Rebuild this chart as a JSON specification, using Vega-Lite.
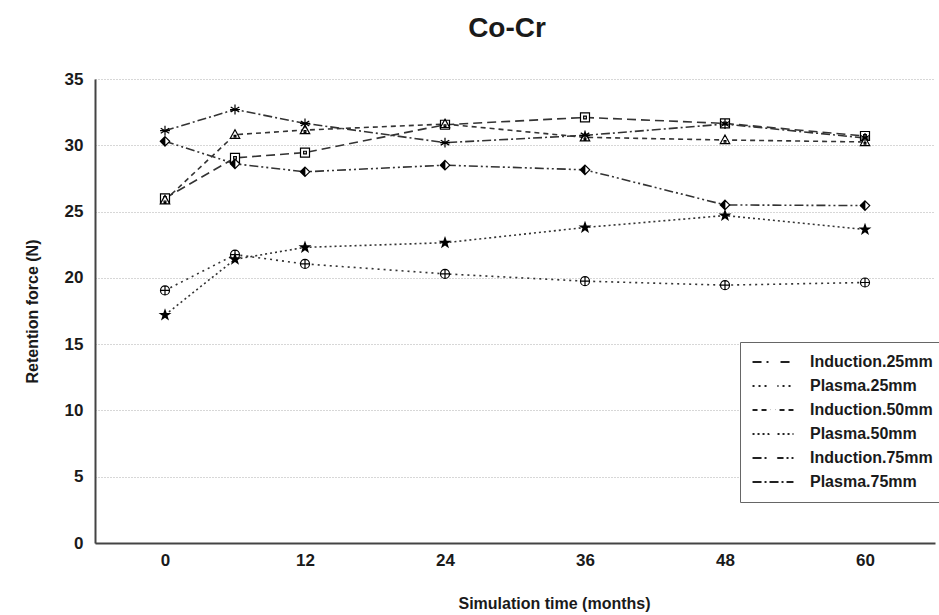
{
  "$schema": "https://vega.github.io/schema/vega-lite/v6.json",
  "width": 840,
  "height": 464,
  "autosize": {"type": "none"},
  "padding": {"left": 95, "top": 79, "right": 4, "bottom": 72},
  "background": "white",
  "config": {
    "font": "Liberation Sans",
    "view": {"stroke": null},
    "axis": {"labelFont": "Liberation Sans", "titleFont": "Liberation Sans"}
  },
  "title": {"text": "Co-Cr", "fontSize": 28, "fontWeight": "bold", "color": "#1a1a1a", "offset": 27, "anchor": "middle", "dx": -8},
  "data": {
    "values": [
      {"series": "Induction.25mm", "month": 0, "force": 26.0},
      {"series": "Induction.25mm", "month": 6, "force": 29.05},
      {"series": "Induction.25mm", "month": 12, "force": 29.45},
      {"series": "Induction.25mm", "month": 24, "force": 31.55},
      {"series": "Induction.25mm", "month": 36, "force": 32.1},
      {"series": "Induction.25mm", "month": 48, "force": 31.65},
      {"series": "Induction.25mm", "month": 60, "force": 30.7},
      {"series": "Plasma.25mm", "month": 0, "force": 19.05},
      {"series": "Plasma.25mm", "month": 6, "force": 21.75},
      {"series": "Plasma.25mm", "month": 12, "force": 21.05},
      {"series": "Plasma.25mm", "month": 24, "force": 20.3},
      {"series": "Plasma.25mm", "month": 36, "force": 19.75},
      {"series": "Plasma.25mm", "month": 48, "force": 19.45},
      {"series": "Plasma.25mm", "month": 60, "force": 19.65},
      {"series": "Induction.50mm", "month": 0, "force": 25.85},
      {"series": "Induction.50mm", "month": 6, "force": 30.8},
      {"series": "Induction.50mm", "month": 12, "force": 31.15},
      {"series": "Induction.50mm", "month": 24, "force": 31.6},
      {"series": "Induction.50mm", "month": 36, "force": 30.6},
      {"series": "Induction.50mm", "month": 48, "force": 30.4},
      {"series": "Induction.50mm", "month": 60, "force": 30.25},
      {"series": "Plasma.50mm", "month": 0, "force": 17.2},
      {"series": "Plasma.50mm", "month": 6, "force": 21.4},
      {"series": "Plasma.50mm", "month": 12, "force": 22.3},
      {"series": "Plasma.50mm", "month": 24, "force": 22.65},
      {"series": "Plasma.50mm", "month": 36, "force": 23.8},
      {"series": "Plasma.50mm", "month": 48, "force": 24.7},
      {"series": "Plasma.50mm", "month": 60, "force": 23.65},
      {"series": "Induction.75mm", "month": 0, "force": 30.3},
      {"series": "Induction.75mm", "month": 6, "force": 28.6},
      {"series": "Induction.75mm", "month": 12, "force": 28.0},
      {"series": "Induction.75mm", "month": 24, "force": 28.5},
      {"series": "Induction.75mm", "month": 36, "force": 28.15},
      {"series": "Induction.75mm", "month": 48, "force": 25.5},
      {"series": "Induction.75mm", "month": 60, "force": 25.45},
      {"series": "Plasma.75mm", "month": 0, "force": 31.1},
      {"series": "Plasma.75mm", "month": 6, "force": 32.7},
      {"series": "Plasma.75mm", "month": 12, "force": 31.65},
      {"series": "Plasma.75mm", "month": 24, "force": 30.2},
      {"series": "Plasma.75mm", "month": 36, "force": 30.75},
      {"series": "Plasma.75mm", "month": 48, "force": 31.6},
      {"series": "Plasma.75mm", "month": 60, "force": 30.55}
    ]
  },
  "encoding": {
    "x": {
      "field": "month", "type": "quantitative",
      "scale": {"domain": [-6, 66], "nice": false, "zero": false},
      "axis": {
        "title": "Simulation time (months)", "values": [0, 12, 24, 36, 48, 60],
        "grid": false, "ticks": false, "domainColor": "#444", "domainWidth": 2,
        "labelFontSize": 17, "labelFontWeight": "bold", "labelColor": "#1a1a1a", "labelPadding": 9,
        "titleFontSize": 16, "titleFontWeight": "bold", "titleColor": "#1a1a1a", "titlePadding": 27, "titleX": 459
      }
    },
    "y": {
      "field": "force", "type": "quantitative",
      "scale": {"domain": [0, 35], "nice": false},
      "axis": {
        "title": "Retention force (N)", "values": [0, 5, 10, 15, 20, 25, 30, 35],
        "grid": true, "gridColor": "#999", "gridDash": [1, 2], "gridWidth": 0.8,
        "ticks": false, "domainColor": "#444", "domainWidth": 2,
        "labelFontSize": 17, "labelFontWeight": "bold", "labelColor": "#1a1a1a", "labelPadding": 12,
        "titleFontSize": 16, "titleFontWeight": "bold", "titleColor": "#1a1a1a", "titlePadding": 24
      }
    }
  },
  "layer": [
    {
      "mark": {"type": "line", "stroke": "#333", "strokeWidth": 1.6},
      "encoding": {
        "strokeDash": {
          "field": "series", "type": "nominal",
          "scale": {
            "domain": ["Induction.25mm", "Plasma.25mm", "Induction.50mm", "Plasma.50mm", "Induction.75mm", "Plasma.75mm"],
            "range": [[9, 5], [2, 4], [5, 4], [2, 3], [9, 3, 2, 3, 2, 3], [9, 3, 2, 3]]
          },
          "legend": {
            "title": null, "orient": "none", "legendX": 645, "legendY": 263, "zindex": 1,
            "padding": 12, "rowPadding": 8, "strokeColor": "#666", "fillColor": "white",
            "symbolType": "M-4.55,0H4.55", "symbolSize": 81, "symbolStrokeWidth": 1.8, "symbolStrokeColor": "#222",
            "symbolOffset": 13, "labelOffset": 29,
            "labelFontSize": 16, "labelFontWeight": "bold", "labelColor": "#1a1a1a", "labelFont": "Liberation Sans", "labelLimit": 300
          }
        }
      }
    },
    {
      "transform": [{"filter": "datum.force >= 0"}],
      "mark": {"type": "point", "filled": true, "fill": "white", "stroke": "black", "strokeWidth": 1.2, "size": 81, "opacity": 1},
      "encoding": {
        "shape": {
          "field": "series", "type": "nominal",
          "scale": {
            "domain": ["Plasma.75mm", "Induction.75mm", "Plasma.50mm", "Induction.50mm", "Plasma.25mm", "Induction.25mm"],
            "range": [
              "M0,-1.1V1.1M-0.95,-0.55L0.95,0.55M-0.95,0.55L0.95,-0.55M-1.1,0H1.1",
              "M0,-1.05L1.05,0L0,1.05L-1.05,0Z M-0.85,-0.2V0.2 M-0.65,-0.4V0.4 M-0.45,-0.6V0.6 M-0.25,-0.8V0.8 M-0.05,-1V1",
              "M0,-1.1L0.26,-0.36L1.05,-0.34L0.42,0.14L0.65,0.9L0,0.45L-0.65,0.9L-0.42,0.14L-1.05,-0.34L-0.26,-0.36Z M0,-0.77L0.182,-0.252L0.735,-0.238L0.294,0.098L0.455,0.63L0,0.315L-0.455,0.63L-0.294,0.098L-0.735,-0.238L-0.182,-0.252Z M0,-0.44L0.104,-0.144L0.42,-0.136L0.168,0.056L0.26,0.36L0,0.18L-0.26,0.36L-0.168,0.056L-0.42,-0.136L-0.104,-0.144Z M0,-0.15L0.13,0.08L-0.13,0.08Z",
              "M0,-1.1L1.05,0.8H-1.05Z M-0.2,0.15H0.2V0.5H-0.2Z",
              "M-1,0A1,1,0,1,0,1,0A1,1,0,1,0,-1,0Z M-1,0H1 M0,-1V1",
              "M-1,-1H1V1H-1Z M-0.3,-0.3H0.3V0.3H-0.3Z"
            ]
          },
          "legend": {
            "title": null, "orient": "none", "legendX": 645, "legendY": 263, "zindex": 2,
            "values": ["Induction.25mm", "Plasma.25mm", "Induction.50mm", "Plasma.50mm", "Induction.75mm", "Plasma.75mm"],
            "padding": 12, "rowPadding": 8,
            "symbolSize": 81, "symbolStrokeWidth": 1.2, "symbolStrokeColor": "black", "symbolFillColor": "white",
            "symbolOffset": 13, "labelOffset": 29,
            "labelFontSize": 16, "labelFontWeight": "bold", "labelOpacity": 0, "labelFont": "Liberation Sans", "labelLimit": 300,
            "encode": {
              "symbols": {"update": {"stroke": {"value": "black"}, "fill": {"value": "white"}, "strokeWidth": {"value": 1.2}, "opacity": {"value": 1}}}
            }
          }
        }
      }
    }
  ]
}
